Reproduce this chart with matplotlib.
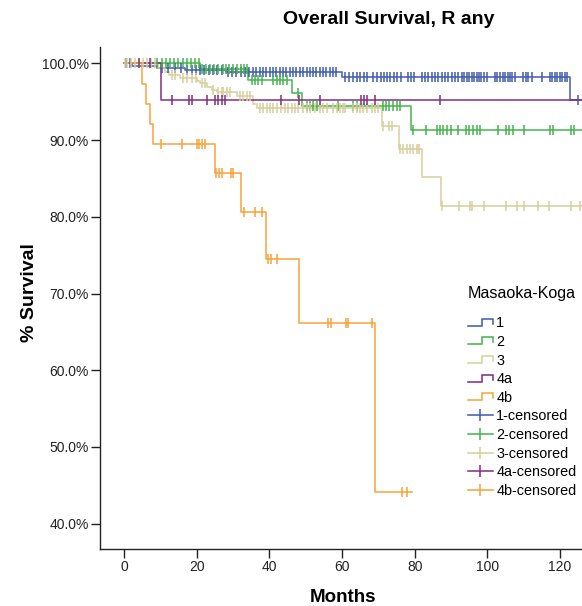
import numpy as np
import matplotlib
matplotlib.use("Agg")
import matplotlib.pyplot as plt
from matplotlib.lines import Line2D
from matplotlib.legend_handler import HandlerBase

plt.rcParams['font.family'] = ['Liberation Sans', 'DejaVu Sans']

# ---------------- data ----------------
groups = ["1", "2", "3", "4a", "4b"]
colors = ["#3d59ab", "#42b24a", "#d5cf9b", "#7e2b7d", "#f8a035"]

# step curves: survival (%) holds from t[i] until t[i+1]
t_1 = [0, 2.0, 9.0, 16.7, 28.0, 59.9, 122.8, 125.8]
s_1 = [100, 99.7, 99.45, 99.15, 98.9, 98.3, 95.3, 95.3]
t_2 = [0, 20.8, 34.2, 46.1, 48.9, 79.0, 126.0]
s_2 = [100, 99.3, 97.85, 96.2, 94.5, 91.3, 91.3]
t_3 = [0, 9.4, 11.2, 12.3, 15.3, 19.9, 20.8, 22.7, 24.1, 25.5, 31.0, 35.5, 36.5,
       70.9, 75.8, 82.1, 87.2, 126.0]
s_3 = [100, 99.4, 98.9, 98.5, 98.15, 97.7, 97.4, 97.0, 96.5, 96.3, 95.7, 94.7, 94.16,
       91.85, 88.85, 85.24, 81.46, 81.46]
t_4a = [0, 10.0, 126.0]
s_4a = [100, 95.24, 95.24]
t_4b = [0, 5.0, 6.0, 7.1, 8.0, 24.9, 32.1, 39.0, 48.1, 69.1, 79.2]
s_4b = [100, 97.37, 94.74, 92.1, 89.47, 85.68, 80.68, 74.47, 66.2, 44.17, 44.17]

# censoring times (months)
c_1 = [0.5, 1.5, 10.5, 12.0, 14.0, 15.5, 17.4, 18.6, 19.8, 20.8, 22.0, 23.2, 24.4, 25.6,
       26.8, 28.5, 29.7, 30.9, 32.1, 33.3, 34.4, 35.5, 36.4, 37.3, 38.2, 39.1, 40.1,
       41.0, 41.9, 42.8, 43.7, 44.6, 45.6, 46.5, 47.4, 48.3, 49.2, 50.2, 51.1, 52.0,
       52.9, 53.8, 54.7, 55.7, 56.6, 57.5, 58.4, 60.8, 62.0, 63.1, 64.0, 64.9, 66.0,
       66.9, 68.6, 69.5, 70.6, 71.5, 72.4, 73.3, 74.2, 75.2, 76.1, 78.2, 78.9, 79.8,
       81.9, 82.8, 83.7, 84.7, 85.6, 86.5, 87.4, 88.3, 89.2, 90.2, 91.1, 92.0, 92.9,
       93.6, 94.4, 95.1, 95.8, 96.4, 97.1, 97.7, 98.4, 99.1, 99.8, 102.1, 102.7, 103.5,
       104.2, 104.8, 105.6, 106.2, 106.9, 107.6, 109.9, 110.6, 111.3, 112.2, 115.0,
       117.3, 117.9, 118.7, 119.3, 120.1, 120.7, 121.4, 122.0, 125.1]
c_2 = [9.1, 10.3, 11.4, 12.6, 13.7, 14.9, 16.1, 17.2, 18.3, 19.5, 20.6, 21.3, 22.5, 23.6,
       24.7, 25.9, 27.1, 27.9, 28.9, 30.0, 31.0, 32.1, 33.0, 33.9, 35.1, 36.0, 36.9,
       37.8, 41.0, 42.0, 42.9, 43.8, 44.7, 47.9, 50.2, 51.2, 52.1, 53.0, 59.0, 63.1,
       64.0, 71.2, 72.1, 73.0, 74.1, 75.0, 75.9, 79.6, 83.0, 86.1, 87.0, 87.9, 88.8,
       89.9, 92.0, 94.1, 95.0, 96.0, 97.1, 98.0, 103.0, 105.2, 106.1, 107.0, 110.1,
       117.3, 118.0, 123.0, 123.9]
c_3 = [0.3, 0.7, 1.8, 2.9, 4.1, 5.2, 6.2, 7.3, 8.5, 13.1, 14.0, 16.3, 17.4, 18.6, 19.7,
       21.3, 22.2, 24.5, 25.9, 26.8, 27.3, 28.2, 29.1, 31.9, 32.8, 33.7, 34.6, 37.4,
       38.3, 39.2, 40.1, 41.0, 42.1, 43.1, 44.3, 45.2, 46.1, 47.0, 47.9, 49.3, 50.2,
       51.2, 52.5, 53.9, 54.8, 55.8, 57.6, 58.5, 59.4, 60.3, 60.8, 63.1, 64.0, 64.9,
       65.8, 66.8, 68.2, 69.1, 70.0, 71.4, 73.0, 73.7, 75.9, 76.9, 77.8, 78.7, 79.6,
       80.6, 81.3, 87.5, 92.2, 95.2, 95.9, 99.2, 105.2, 108.1, 110.1, 114.0, 117.1,
       123.0, 125.5]
c_4a = [4.1, 7.1, 13.1, 17.9, 18.6, 22.9, 25.0, 25.9, 26.8, 27.7, 43.1, 48.1, 53.9,
        65.1, 66.0, 66.9, 69.1, 87.0]
c_4b = [10.0, 16.0, 19.9, 20.6, 21.3, 22.2, 25.2, 26.1, 27.0, 29.4, 30.0, 33.0, 36.0,
        38.0, 39.5, 40.3, 42.0, 56.2, 56.9, 61.0, 61.7, 68.2, 76.4, 77.8]

curves_t = [t_1, t_2, t_3, t_4a, t_4b]
curves_s = [s_1, s_2, s_3, s_4a, s_4b]
censors = [c_1, c_2, c_3, c_4a, c_4b]

x_ticks = [0, 20, 40, 60, 80, 100, 120]
y_ticks = [40, 50, 60, 70, 80, 90, 100]


def surv_at(t, s, times):
    t = np.asarray(t)
    s = np.asarray(s)
    idx = np.searchsorted(t, np.asarray(times), side='right') - 1
    idx = np.clip(idx, 0, len(s) - 1)
    return s[idx]


class StepHandler(HandlerBase):
    def create_artists(self, legend, orig_handle, xdescent, ydescent,
                       width, height, fontsize, trans):
        x0 = -xdescent
        y0 = -ydescent
        xs = [x0, x0 + 0.55 * width, x0 + 0.55 * width, x0 + width, x0 + width]
        ys = [y0 + 0.15 * height, y0 + 0.15 * height, y0 + 0.85 * height,
              y0 + 0.85 * height, y0 + 0.35 * height]
        ln = Line2D(xs, ys, color=orig_handle.get_color(), lw=1.1,
                    solid_joinstyle='miter')
        ln.set_transform(trans)
        return [ln]


W, H = 582, 606
fig = plt.figure(figsize=(W / 100, H / 100), dpi=100)
ax = fig.add_axes([100 / W, 57 / H, 482 / W, 502 / H])

for t, s, c in zip(curves_t, curves_s, colors):
    ax.step(t, s, where='post', color=c, lw=1.2, alpha=0.9)
for t, s, ct, c in zip(curves_t, curves_s, censors, colors):
    ax.plot(ct, surv_at(t, s, ct), ls='none', marker='|', ms=6.5, mew=1.2,
            color=c, alpha=0.9)

ax.set_xlim(-6.7, 126.1)
ax.set_ylim(36.7, 102.15)
ax.set_xticks(x_ticks)
ax.set_yticks(y_ticks)
ax.set_yticklabels([f"{v:.1f}%" for v in y_ticks])
ax.tick_params(axis='both', direction='out', length=6.5, width=1.0,
               labelsize=10, colors='#222222', pad=1.5)
for side in ['top', 'right']:
    ax.spines[side].set_visible(False)
for side in ['left', 'bottom']:
    ax.spines[side].set_color('#222222')
    ax.spines[side].set_linewidth(1.0)

fig.text(389 / W, 1 - 20 / H, "Overall Survival, R any", ha='center', va='center',
         fontsize=14, fontweight='bold')
fig.text(343 / W, 1 - 598 / H, "Months", ha='center', va='center',
         fontsize=13.5, fontweight='bold')
fig.text(30 / W, 1 - 293 / H, "% Survival", ha='center', va='center',
         fontsize=14, fontweight='bold', rotation=90)

handles = []
labels = []
hmap = {}
for g, c in zip(groups, colors):
    h = Line2D([], [], color=c, lw=1.1)
    handles.append(h)
    labels.append(g)
    hmap[h] = StepHandler()
for g, c in zip(groups, colors):
    h = Line2D([], [], color=c, lw=1.1, marker='|', ms=8, mew=1.1)
    handles.append(h)
    labels.append(f"{g}-censored")

leg = ax.legend(handles, labels, handler_map=hmap, title="Masaoka-Koga",
                loc='upper left', bbox_to_anchor=(468 / W, 1 - 286 / H),
                bbox_transform=fig.transFigure, frameon=False, fontsize=10.4,
                title_fontsize=11.6, borderpad=0, borderaxespad=0,
                handlelength=1.7, handletextpad=0.25, labelspacing=0.32,
                numpoints=1)
leg._legend_box.align = 'left'
leg._legend_box.sep = 11
# indent the entries slightly relative to the title
leg._legend_handle_box.pad = 0

fig.savefig("out.png", dpi=100)
